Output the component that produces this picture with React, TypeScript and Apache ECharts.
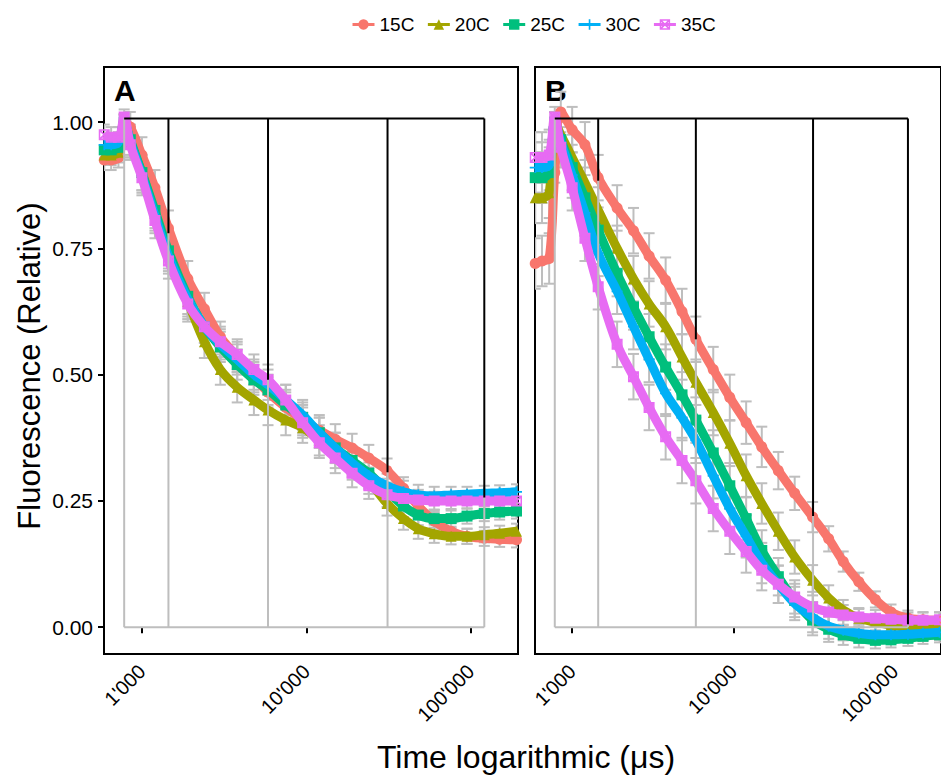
import React, { useEffect, useRef } from "react";
import * as echarts from "echarts";

// ---- data ----
const TIMES = [590, 650, 720, 780, 850, 1000, 1200, 1450, 1900, 2400, 3000, 3800, 4800, 5850, 7500, 9500, 12000, 15000, 19000, 24000, 31000, 39000, 48000, 60000, 76000, 95000, 121000, 150000, 190000];

const A_15C = [0.925, 0.925, 0.93, 1.0, 0.99, 0.935, 0.87, 0.79, 0.69, 0.63, 0.575, 0.535, 0.495, 0.465, 0.435, 0.41, 0.39, 0.372, 0.355, 0.335, 0.31, 0.275, 0.24, 0.21, 0.19, 0.18, 0.176, 0.174, 0.173];
const A_20C = [0.935, 0.935, 0.94, 1.0, 0.96, 0.9, 0.82, 0.74, 0.645, 0.565, 0.51, 0.475, 0.45, 0.43, 0.41, 0.395, 0.37, 0.345, 0.32, 0.29, 0.245, 0.215, 0.195, 0.185, 0.18, 0.18, 0.183, 0.186, 0.19];
const A_25C = [0.945, 0.945, 0.95, 1.0, 0.965, 0.9, 0.825, 0.745, 0.655, 0.595, 0.555, 0.52, 0.49, 0.47, 0.44, 0.415, 0.385, 0.355, 0.33, 0.305, 0.27, 0.24, 0.222, 0.215, 0.215, 0.22, 0.225, 0.228, 0.23];
const A_30C = [0.955, 0.955, 0.96, 1.0, 0.96, 0.895, 0.815, 0.735, 0.65, 0.595, 0.56, 0.53, 0.5, 0.48, 0.45, 0.42, 0.385, 0.355, 0.325, 0.3, 0.28, 0.268, 0.262, 0.26, 0.262, 0.263, 0.265, 0.266, 0.268];
const A_35C = [0.975, 0.97, 0.97, 1.01, 0.955, 0.89, 0.805, 0.725, 0.64, 0.595, 0.565, 0.54, 0.51, 0.49, 0.45, 0.405, 0.365, 0.335, 0.305, 0.28, 0.262, 0.255, 0.252, 0.25, 0.25, 0.25, 0.25, 0.25, 0.25];

const B_15C = [0.72, 0.725, 0.73, 0.9, 1.02, 0.985, 0.955, 0.89, 0.83, 0.785, 0.735, 0.687, 0.625, 0.57, 0.51, 0.455, 0.405, 0.357, 0.31, 0.265, 0.218, 0.175, 0.13, 0.09, 0.055, 0.03, 0.018, 0.015, 0.014];
const B_20C = [0.85, 0.85, 0.86, 1.0, 0.975, 0.93, 0.88, 0.826, 0.75, 0.69, 0.64, 0.595, 0.535, 0.485, 0.425, 0.364, 0.3, 0.245, 0.19, 0.139, 0.093, 0.058, 0.034, 0.018, 0.01, 0.004, 0.0, -0.003, -0.004];
const B_25C = [0.89, 0.89, 0.9, 1.0, 0.965, 0.91, 0.85, 0.786, 0.7, 0.634, 0.575, 0.515, 0.46, 0.41, 0.345, 0.28, 0.215, 0.152, 0.1, 0.053, 0.014, -0.004, -0.015, -0.022, -0.026, -0.025, -0.022, -0.018, -0.015];
const B_30C = [0.91, 0.91, 0.915, 1.0, 0.96, 0.895, 0.82, 0.74, 0.665, 0.595, 0.53, 0.463, 0.415, 0.37, 0.3, 0.235, 0.18, 0.127, 0.085, 0.047, 0.02, 0.002, -0.006, -0.012, -0.015, -0.015, -0.014, -0.012, -0.01];
const B_35C = [0.93, 0.93, 0.935, 1.01, 0.95, 0.87, 0.77, 0.674, 0.56, 0.496, 0.435, 0.377, 0.33, 0.29, 0.235, 0.19, 0.15, 0.113, 0.085, 0.06, 0.04, 0.03, 0.024, 0.02, 0.018, 0.016, 0.014, 0.014, 0.015];

const ERR_A = [0.02, 0.02, 0.02, 0.015, 0.03, 0.035, 0.035, 0.035, 0.035, 0.032, 0.03, 0.03, 0.03, 0.03, 0.03, 0.03, 0.03, 0.03, 0.028, 0.026, 0.024, 0.022, 0.02, 0.018, 0.016, 0.015, 0.015, 0.015, 0.015];
const ERR_B = [0.05, 0.05, 0.05, 0.02, 0.04, 0.045, 0.045, 0.045, 0.045, 0.045, 0.045, 0.045, 0.045, 0.045, 0.045, 0.045, 0.042, 0.04, 0.037, 0.033, 0.03, 0.025, 0.02, 0.018, 0.016, 0.015, 0.015, 0.015, 0.015];

const SERIES_NAMES = ["15C", "20C", "25C", "30C", "35C"];
const PANEL_A = [A_15C, A_20C, A_25C, A_30C, A_35C];
const PANEL_B = [B_15C, B_20C, B_25C, B_30C, B_35C];

const BRACKET_TIMES = [780, 1450, 5850, 31200, 121000];
const BRACKET_A = [1.007, 0.78, 0.49, 0.307, 0.257];
const BRACKET_B = [1.007, 0.884, 0.57, 0.22, 0.006];
const BRACKET_TOP = 1.007;

const X_TICKS = [1000, 10000, 100000];
const Y_TICKS = [0, 0.25, 0.5, 0.75, 1.0];

// ---- styles ----
const COLORS = ["#F8766D", "#A3A500", "#00BF7D", "#00B0F6", "#E76BF3"];
const PLUS = "path://M4.2,0H5.8V4.2H10V5.8H5.8V10H4.2V5.8H0V4.2H4.2Z";
const BOXX =
  "path://M0,0L10,0L10,10L0,10Z M1.4,1.4L1.4,8.6L8.6,8.6L8.6,1.4Z M0,0L1.1,0L10,8.9L10,10L8.9,10L0,1.1Z M10,0L10,1.1L1.1,10L0,10L0,8.9L8.9,0Z";
const SYMBOLS = ["circle", "triangle", "rect", PLUS, BOXX];
const FONT = "'Liberation Sans', Arial, sans-serif";
const GRAY = "#BEBEBE";

function fmtThousands(v: number): string {
  return String(Math.round(v)).replace(/\B(?=(\d{3})+(?!\d))/g, "'");
}

export default function App() {
  const ref = useRef<HTMLDivElement>(null);

  useEffect(() => {
    if (!ref.current) return;
    const chart = echarts.init(ref.current, null, { renderer: "svg" });

    const series: any[] = [];
    [PANEL_A, PANEL_B].forEach((panel, p) => {
      const err = p === 0 ? ERR_A : ERR_B;
      panel.forEach((vals, i) => {
        series.push({
          type: "custom",
          name: "err" + p + i,
          xAxisIndex: p,
          yAxisIndex: p,
          z: 1,
          clip: true,
          silent: true,
          data: TIMES.map((t, k) => [t, vals[k], err[k]]),
          encode: { x: 0, y: 1 },
          renderItem: (params: any, api: any) => {
            const t = api.value(0);
            const v = api.value(1);
            const e = api.value(2);
            const top = api.coord([t, v + e]);
            const bot = api.coord([t, v - e]);
            const w = 5.5;
            const style = { stroke: GRAY, lineWidth: 2 };
            return {
              type: "group",
              children: [
                { type: "line", shape: { x1: top[0], y1: top[1], x2: bot[0], y2: bot[1] }, style },
                { type: "line", shape: { x1: top[0] - w, y1: top[1], x2: top[0] + w, y2: top[1] }, style },
                { type: "line", shape: { x1: bot[0] - w, y1: bot[1], x2: bot[0] + w, y2: bot[1] }, style },
              ],
            };
          },
        });
      });
      panel.forEach((vals, i) => {
        series.push({
          type: "line",
          name: SERIES_NAMES[i],
          xAxisIndex: p,
          yAxisIndex: p,
          z: 2 + i * 0.01,
          data: TIMES.map((t, k) => [t, vals[k]]),
          smooth: 0.35,
          symbol: SYMBOLS[i],
          symbolSize: 11,
          showSymbol: true,
          clip: true,
          lineStyle: { color: COLORS[i], width: 9 },
          itemStyle: { color: COLORS[i] },
          emphasis: { disabled: true },
        });
      });
      const br = p === 0 ? BRACKET_A : BRACKET_B;
      series.push({
        type: "custom",
        name: "bracket" + p,
        xAxisIndex: p,
        yAxisIndex: p,
        z: 5,
        silent: true,
        clip: true,
        data: BRACKET_TIMES.map((t, k) => [t, br[k]]),
        encode: { x: 0, y: 1 },
        renderItem: (params: any, api: any) => {
          const t = api.value(0);
          const v = api.value(1);
          const pTop = api.coord([t, BRACKET_TOP]);
          const pMid = api.coord([t, v]);
          const pZero = api.coord([t, 0]);
          const children: any[] = [
            { type: "line", shape: { x1: pMid[0], y1: pMid[1], x2: pZero[0], y2: pZero[1] }, style: { stroke: GRAY, lineWidth: 2 } },
            { type: "line", shape: { x1: pTop[0], y1: pTop[1], x2: pMid[0], y2: pMid[1] }, style: { stroke: "#000", lineWidth: 2 } },
          ];
          if (params.dataIndex === 0) {
            const last = BRACKET_TIMES[BRACKET_TIMES.length - 1];
            const lt = api.coord([last, BRACKET_TOP]);
            const lz = api.coord([last, 0]);
            children.unshift({ type: "line", shape: { x1: pZero[0], y1: pZero[1], x2: lz[0], y2: lz[1] }, style: { stroke: GRAY, lineWidth: 2 } });
            children.push({ type: "line", shape: { x1: pTop[0], y1: pTop[1], x2: lt[0], y2: lt[1] }, style: { stroke: "#000", lineWidth: 2 } });
          }
          return { type: "group", children };
        },
      });
    });

    const xAxisBase = (gridIndex: number) => ({
      type: "log",
      logBase: 10,
      gridIndex,
      min: 588,
      max: 194000,
      axisLine: { show: false },
      splitLine: { show: false },
      minorTick: { show: false },
      axisTick: { show: true, length: 6, lineStyle: { color: "#000", width: 2 }, customValues: X_TICKS },
      axisLabel: {
        customValues: X_TICKS,
        rotate: 45,
        margin: 14,
        fontSize: 20,
        fontFamily: FONT,
        color: "#000",
        formatter: (v: number) => fmtThousands(v),
      },
    });

    const yAxisBase = (gridIndex: number, show: boolean) => ({
      type: "value",
      gridIndex,
      min: -0.053,
      max: 1.109,
      axisLine: { show: false },
      splitLine: { show: false },
      axisTick: { show, length: 6, lineStyle: { color: "#000", width: 2 }, customValues: Y_TICKS },
      axisLabel: {
        show,
        customValues: Y_TICKS,
        margin: 11,
        fontSize: 21,
        fontFamily: FONT,
        color: "#000",
        formatter: (v: number) => v.toFixed(2),
      },
    });

    const option: any = {
      animation: false,
      backgroundColor: "#fff",
      textStyle: { fontFamily: FONT },
      legend: {
        data: SERIES_NAMES,
        left: 346,
        top: 10,
        itemWidth: 22,
        itemHeight: 13,
        itemGap: 12,
        selectedMode: false,
        textStyle: { fontSize: 19, fontFamily: FONT, color: "#000" },
        lineStyle: { width: 3 },
      },
      grid: [
        { left: 104, top: 67, width: 414, height: 587, show: true, borderColor: "#000", borderWidth: 2, backgroundColor: "transparent" },
        { left: 535, top: 67, width: 414, height: 587, show: true, borderColor: "#000", borderWidth: 2, backgroundColor: "transparent" },
      ],
      xAxis: [xAxisBase(0), xAxisBase(1)],
      yAxis: [yAxisBase(0, true), yAxisBase(1, false)],
      graphic: [
        { type: "text", left: 114, top: 75, style: { text: "A", fontSize: 30, fontWeight: "bold", fontFamily: FONT, fill: "#000" } },
        { type: "text", left: 545, top: 75, style: { text: "B", fontSize: 30, fontWeight: "bold", fontFamily: FONT, fill: "#000" } },
        {
          type: "text",
          x: 29,
          y: 366,
          rotation: Math.PI / 2,
          style: { text: "Fluorescence (Relative)", fontSize: 31, fontFamily: FONT, fill: "#000", align: "center", verticalAlign: "middle" },
        },
        {
          type: "text",
          x: 526,
          y: 757,
          style: { text: "Time logarithmic (μs)", fontSize: 32, fontFamily: FONT, fill: "#000", align: "center", verticalAlign: "middle" },
        },
      ],
      series,
    };

    chart.setOption(option);
    return () => chart.dispose();
  }, []);

  return (
    <div
      ref={ref}
      style={{ position: "fixed", left: 0, top: 0, width: 941, height: 776, background: "#fff" }}
    />
  );
}
